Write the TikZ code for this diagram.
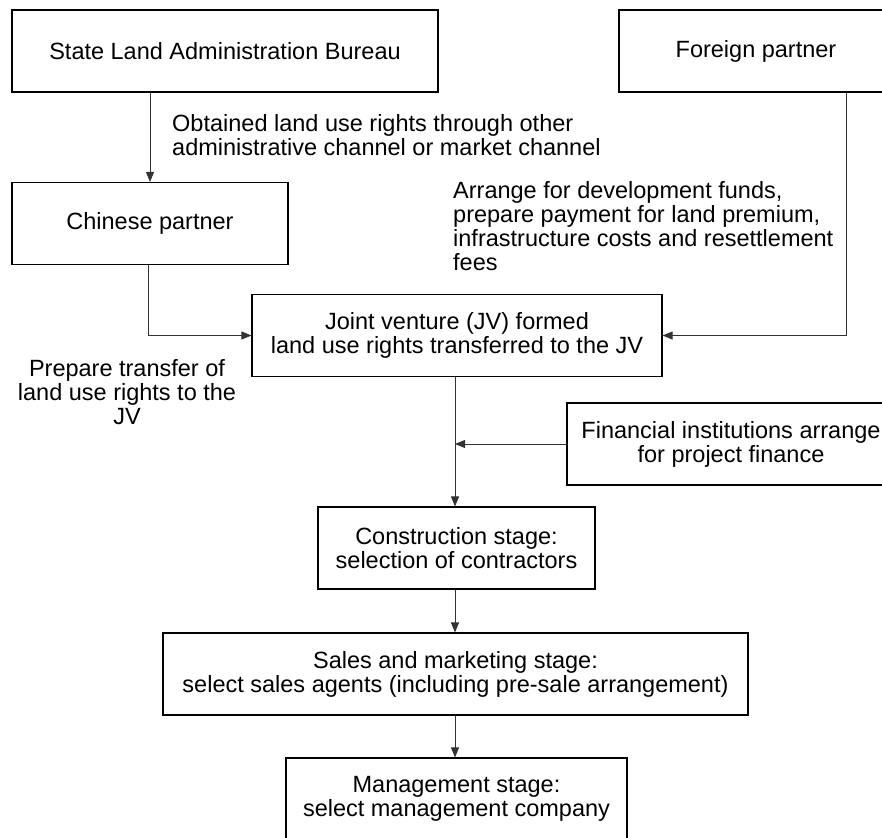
\documentclass[tikz,border=0pt]{standalone}
\usepackage{fontspec}
\setmainfont{Liberation Sans}
\usetikzlibrary{arrows.meta}

\begin{document}
\begin{tikzpicture}[
  x=1pt, y=-1pt,
  every node/.style={align=center, font=\fontsize{23.5}{24}\selectfont},
  box/.style={rectangle, sharp corners, draw=black, line width=1.1pt, minimum height=82pt, inner sep=0pt},
  note/.style={inner sep=0pt},
  arrow/.style={-{Triangle[length=10pt, width=8pt]}, line width=0.9pt, black!80},
  link/.style={line width=0.9pt, black!80}
]
\useasboundingbox (0,0) rectangle (882,837);
\clip (0,0) rectangle (882,837);

%% Row 0: land bureau + foreign partner
\node[box, minimum width=426pt] (bureau) at (225,51) {State Land Administration Bureau};
\node[box, minimum width=274pt] (foreign) at (756,51) {Foreign partner};

%% Row 1: Chinese partner
\node[box, minimum width=276pt] (chinese) at (150,223.5) {Chinese partner};

\node[note, anchor=west, align=left] (obtained) at (172,135)
  {Obtained land use rights through other\\administrative channel or market channel};

\node[note, anchor=west, align=left] (funds) at (453,226)
  {Arrange for development funds,\\prepare payment for land premium,\\infrastructure costs and resettlement\\fees};

%% Row 2: joint venture
\node[box, minimum width=410pt] (jv) at (457,335.5)
  {Joint venture (JV) formed\\land use rights transferred to the JV};

\node[note] (transfer) at (127,392)
  {Prepare transfer of\\land use rights to the\\JV};

%% Financing side box
\node[box, minimum width=328pt] (finance) at (731,444)
  {Financial institutions arrange\\for project finance};

%% Row 3-5: stages
\node[box, minimum width=277pt] (build) at (456.5,548)
  {Construction stage:\\selection of contractors};
\node[box, minimum width=585pt] (sales) at (455.5,674)
  {Sales and marketing stage:\\select sales agents (including pre-sale arrangement)};
\node[box, minimum width=341pt] (manage) at (456.5,799)
  {Management stage:\\select management company};

%% Connectors
\draw[arrow] (chinese.north |- bureau.south) -- (chinese.north);
\draw[arrow] ([xshift=-2pt]chinese.south) |- (jv.west);
\draw[arrow] ([xshift=90pt]foreign.south) |- (jv.east);
\coordinate (jvdrop) at ([xshift=-2pt]jv.south);
\draw[arrow] (jvdrop) -- (jvdrop |- build.north);
\draw[arrow] (finance.west) -- (finance.west -| jvdrop);
\draw[arrow] (build.south -| jvdrop) -- (jvdrop |- sales.north);
\draw[arrow] (sales.south -| jvdrop) -- (jvdrop |- manage.north);

\end{tikzpicture}
\end{document}
